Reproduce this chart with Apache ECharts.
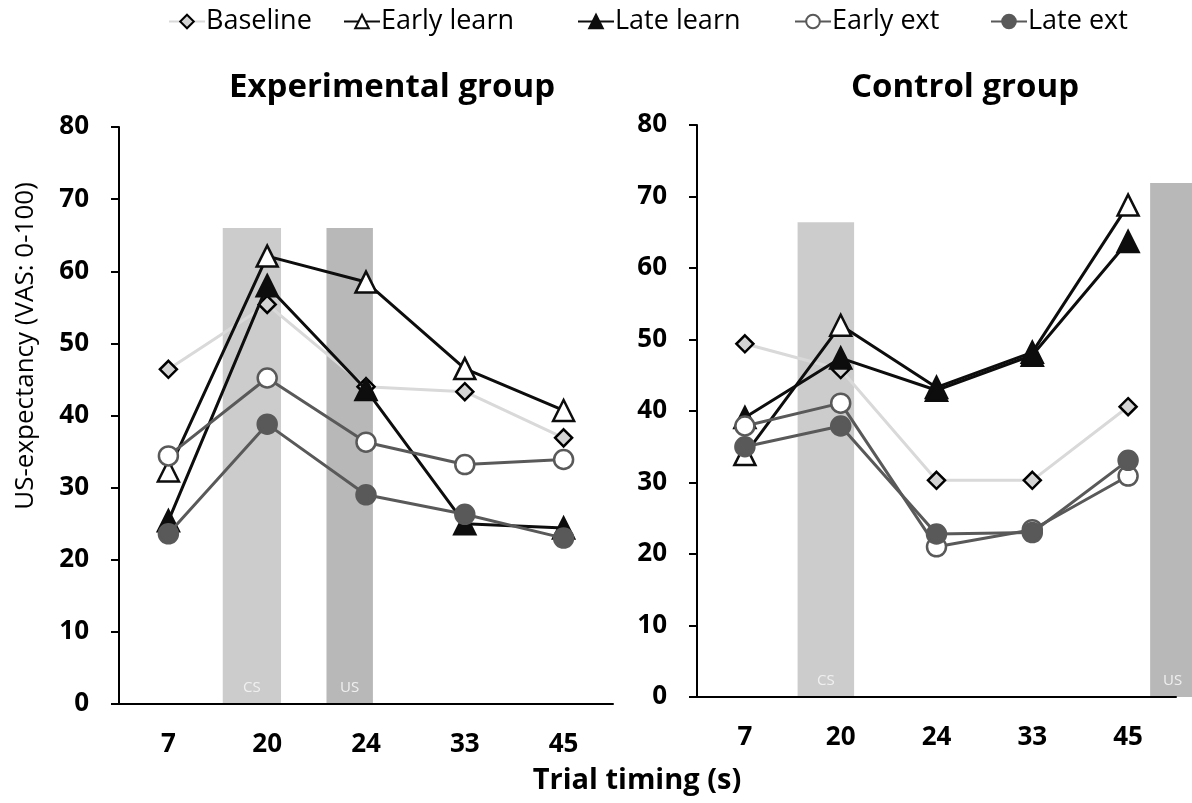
<!DOCTYPE html>
<html>
<head>
<meta charset="utf-8">
<title>US-expectancy by trial timing</title>
<script src="https://cdn.jsdelivr.net/npm/echarts@6/dist/echarts.min.js"></script>
<style>
  html, body { margin: 0; padding: 0; background: #ffffff; }
  #chart { width: 1192px; height: 803px; }
</style>
</head>
<body>
<div id="chart"></div>
<script>
// Trial timing categories (seconds)
const timings = ['7', '20', '24', '33', '45'];
const yTicks = [0, 80, 10]; // min, max, step

// Experimental group: mean US-expectancy per phase
const expBaseline   = [46.4, 55.4, 44.0, 43.3, 36.9];
const expEarlyLearn = [32.3, 62.1, 58.5, 46.5, 40.7];
const expLateLearn  = [25.4, 58.0, 43.6, 25.0, 24.4];
const expEarlyExt   = [34.4, 45.2, 36.3, 33.2, 33.9];
const expLateExt    = [23.6, 38.8, 29.0, 26.3, 23.0];

// Control group: mean US-expectancy per phase
const ctlBaseline   = [49.4, 45.8, 30.3, 30.3, 40.6];
const ctlEarlyLearn = [33.9, 52.0, 43.3, 48.2, 68.8];
const ctlLateLearn  = [39.1, 47.4, 42.9, 47.8, 63.7];
const ctlEarlyExt   = [37.9, 41.1, 21.0, 23.4, 30.9];
const ctlLateExt    = [35.0, 37.9, 22.8, 23.0, 33.1];

// Stimulus windows, in category units from the first band edge: [from, to, height, label]
const expStimuli = [[1.05, 1.64, 66, 'CS'], [2.10, 2.57, 66, 'US']];
const ctlStimuli = [[1.05, 1.64, 66.4, 'CS'], [4.73, 5.20, 71.9, 'US']];

const FONT = '"Open Sans", "Noto Sans", sans-serif';
const phaseNames = ['Baseline', 'Early learn', 'Late learn', 'Early ext', 'Late ext'];
// left edge of each legend entry
const legendLeft = [163, 338, 572, 789, 985];

const phaseStyle = {
  'Baseline':    { symbol: 'diamond',  size: 17, line: '#d9d9d9', fill: '#d3d3d3', border: '#000000' },
  'Early learn': { symbol: 'triangle', size: 21, line: '#0d0d0d', fill: '#ffffff', border: '#0d0d0d' },
  'Late learn':  { symbol: 'triangle', size: 21, line: '#0d0d0d', fill: '#0d0d0d', border: '#0d0d0d' },
  'Early ext':   { symbol: 'circle',   size: 19, line: '#595959', fill: '#ffffff', border: '#595959' },
  'Late ext':    { symbol: 'circle',   size: 19, line: '#595959', fill: '#595959', border: '#595959' }
};

function lineSeries(name, values, axisIndex, z) {
  const s = phaseStyle[name];
  return {
    name: name,
    type: 'line',
    xAxisIndex: axisIndex,
    yAxisIndex: axisIndex,
    data: values,
    symbol: s.symbol,
    symbolSize: s.size,
    showAllSymbol: true,
    z: z,
    lineStyle: { color: s.line, width: 3 },
    itemStyle: { color: s.fill, borderColor: s.border, borderWidth: 2.5, opacity: 1 },
    emphasis: { disabled: true }
  };
}

function stimulusSeries(windows, axisIndex) {
  return {
    type: 'custom',
    xAxisIndex: axisIndex,
    yAxisIndex: axisIndex,
    clip: false,
    z: 0,
    silent: true,
    encode: { x: 0, y: 2 },
    data: windows,
    renderItem: function (params, api) {
      const base = api.coord([0, 0]);
      const band = api.size([1, 0])[0];
      const edge = base[0] - band / 2;
      const x0 = edge + api.value(0) * band;
      const x1 = edge + api.value(1) * band;
      const yTop = api.coord([0, api.value(2)])[1];
      const label = windows[params.dataIndex][3];
      const color = label === 'CS' ? '#cccccc' : '#b8b8b8';
      return {
        type: 'group',
        children: [
          { type: 'rect', shape: { x: x0, y: yTop, width: x1 - x0, height: base[1] - yTop },
            style: { fill: color } },
          { type: 'text', x: (x0 + x1) / 2, y: base[1] - 16,
            style: { text: label, fill: '#f0f0f0', font: '15px ' + FONT, align: 'center', verticalAlign: 'middle' } }
        ]
      };
    }
  };
}

function yAxisDef(gridIndex) {
  return {
    type: 'value',
    gridIndex: gridIndex,
    min: yTicks[0], max: yTicks[1], interval: yTicks[2],
    axisLine: { show: true, lineStyle: { color: '#000000', width: 2 } },
    axisTick: { show: true, inside: false, length: 8, lineStyle: { color: '#000000', width: 2 } },
    splitLine: { show: false },
    axisLabel: { color: '#000000', fontFamily: FONT, fontWeight: 'bold', fontSize: 26, margin: 30 }
  };
}

function xAxisDef(gridIndex) {
  return {
    type: 'category',
    gridIndex: gridIndex,
    data: timings,
    boundaryGap: true,
    axisLine: { show: true, lineStyle: { color: '#000000', width: 2 } },
    axisTick: { show: false },
    splitLine: { show: false },
    axisLabel: { color: '#000000', fontFamily: FONT, fontWeight: 'bold', fontSize: 26, margin: 28 }
  };
}

const chart = echarts.init(document.getElementById('chart'), null, { renderer: 'canvas' });

const series = [
  stimulusSeries(expStimuli, 0),
  stimulusSeries(ctlStimuli, 1),
  lineSeries('Baseline', expBaseline, 0, 2),
  lineSeries('Early learn', expEarlyLearn, 0, 3),
  lineSeries('Late learn', expLateLearn, 0, 4),
  lineSeries('Early ext', expEarlyExt, 0, 5),
  lineSeries('Late ext', expLateExt, 0, 6),
  lineSeries('Baseline', ctlBaseline, 1, 2),
  lineSeries('Early learn', ctlEarlyLearn, 1, 3),
  lineSeries('Late learn', ctlLateLearn, 1, 4),
  lineSeries('Early ext', ctlEarlyExt, 1, 5),
  lineSeries('Late ext', ctlLateExt, 1, 6)
];

const legends = phaseNames.map(function (name, i) {
  return {
    data: [name],
    top: 3,
    left: legendLeft[i],
    itemWidth: 36,
    itemHeight: 17,
    textStyle: { fontFamily: FONT, fontSize: 27, color: '#000000', padding: [0, 0, 0, -4] }
  };
});

chart.setOption({
  animation: false,
  backgroundColor: '#ffffff',
  title: [
    { text: 'Experimental group', left: 387, top: 66, textAlign: 'center',
      textStyle: { fontFamily: FONT, fontWeight: 'bold', fontSize: 33, color: '#000000' } },
    { text: 'Control group', left: 960, top: 66, textAlign: 'center',
      textStyle: { fontFamily: FONT, fontWeight: 'bold', fontSize: 33, color: '#000000' } },
    { text: 'Trial timing (s)', left: 632, top: 761, textAlign: 'center',
      textStyle: { fontFamily: FONT, fontWeight: 'bold', fontSize: 29, color: '#000000' } }
  ],
  legend: legends,
  graphic: [
    { type: 'text', x: 26, y: 346, rotation: Math.PI / 2,
      style: { text: 'US-expectancy (VAS: 0-100)', font: '26px ' + FONT, fill: '#000000',
               align: 'center', verticalAlign: 'middle' } }
  ],
  grid: [
    { left: 119, top: 127, width: 494, height: 577 },
    { left: 697, top: 125, width: 479, height: 572 }
  ],
  xAxis: [xAxisDef(0), xAxisDef(1)],
  yAxis: [yAxisDef(0), yAxisDef(1)],
  series: series
});
</script>
</body>
</html>
